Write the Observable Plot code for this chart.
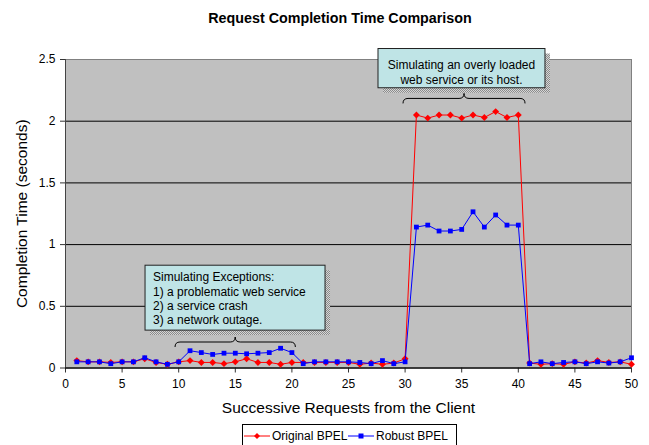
<!DOCTYPE html>
<html>
<head>
<meta charset="utf-8">
<script src="https://cdn.jsdelivr.net/npm/d3@7"></script>
<script src="https://cdn.jsdelivr.net/npm/@observablehq/plot@0.6"></script>
<style>
  html, body { margin: 0; padding: 0; background: #fff; overflow: hidden; }
  body { width: 649px; height: 445px; position: relative; font-family: "Liberation Sans", Arial, sans-serif; }
  #title { position: absolute; left: 31px; top: 10px; width: 618px; text-align: center; font-weight: bold; font-size: 14.3px; line-height: 16px; }
  #chart { position: absolute; left: 0; top: 30px; }
  #legend { position: absolute; left: 242px; top: 424px; width: 215px; height: 26px; border: 1px solid #000; box-sizing: border-box; background: #fff; font-size: 12px; }
  #legend .item { position: absolute; top: 4px; display: flex; align-items: center; height: 14px; }
  #legend svg { display: block; }
  #legend span { margin-left: 2px; line-height: 14px; }
</style>
</head>
<body>
<div id="title">Request Completion Time Comparison</div>
<div id="chart"></div>
<div id="legend"></div>
<script>
// ---- data ----
const requests = [1,2,3,4,5,6,7,8,9,10,11,12,13,14,15,16,17,18,19,20,21,22,23,24,25,26,27,28,29,30,31,32,33,34,35,36,37,38,39,40,41,42,43,44,45,46,47,48,49,50];
const originalBPEL = [0.06,0.05,0.05,0.045,0.05,0.05,0.075,0.045,0.03,0.05,
                      0.06,0.045,0.045,0.035,0.05,0.075,0.045,0.045,0.03,0.045,
                      0.045,0.045,0.045,0.045,0.045,0.03,0.04,0.03,0.04,0.075,
                      2.05,2.025,2.05,2.05,2.025,2.05,2.03,2.078,2.03,2.05,
                      0.04,0.03,0.035,0.03,0.05,0.04,0.06,0.045,0.05,0.03];
const robustBPEL = [0.05,0.05,0.05,0.035,0.05,0.05,0.083,0.05,0.03,0.05,
                    0.14,0.125,0.11,0.12,0.12,0.115,0.12,0.125,0.16,0.125,
                    0.035,0.05,0.05,0.05,0.05,0.045,0.035,0.06,0.035,0.05,
                    1.142,1.158,1.11,1.11,1.123,1.266,1.142,1.24,1.158,1.158,
                    0.035,0.05,0.035,0.045,0.05,0.035,0.05,0.04,0.05,0.083];
const seriesNames = ["Original BPEL", "Robust BPEL"];
const seriesColors = ["#ff0000", "#0000ff"];
const xTicks = [0,5,10,15,20,25,30,35,40,45,50];
const yTicks = [0,0.5,1,1.5,2,2.5];
const titleText = "Request Completion Time Comparison";
const xLabel = "Successive Requests from the Client";
const yLabel = "Completion Time (seconds)";
const noteExceptions = ["Simulating Exceptions:", "1) a problematic web service", "2) a service crash", "3) a network outage."];
const noteOverload = ["Simulating an overly loaded", "web service or its host."];

// annotation layout (data-space anchors)
const annotations = [
  {lines: noteExceptions, box: [7.07, 22.97, 0.829, 0.303], align: "start", brace: [9.72, 20.35, 0.166]},
  {lines: noteOverload,   box: [27.65, 42.4, 2.585, 2.267], align: "middle", brace: [29.86, 40.64, 2.14]}
];

const rows = requests.map((r, i) => ({request: r, original: originalBPEL[i], robust: robustBPEL[i]}));

function annotationMark(index, scales) {
  const {x, y} = scales;
  const g = d3.create("svg:g");
  const defs = g.append("defs");
  const pat = defs.append("pattern").attr("id", "shade").attr("width", 2).attr("height", 2).attr("patternUnits", "userSpaceOnUse");
  pat.append("rect").attr("width", 2).attr("height", 2).attr("fill", "#d6d6d6");
  pat.append("rect").attr("width", 1).attr("height", 1).attr("fill", "#8a8a8a");
  pat.append("rect").attr("x", 1).attr("y", 1).attr("width", 1).attr("height", 1).attr("fill", "#8a8a8a");
  for (const a of annotations) {
    const bx1 = x(a.box[0]), bx2 = x(a.box[1]), by1 = y(a.box[2]), by2 = y(a.box[3]);
    g.append("rect").attr("x", bx1 + 5).attr("y", by1 + 5).attr("width", bx2 - bx1).attr("height", by2 - by1).attr("fill", "url(#shade)");
    g.append("rect").attr("x", bx1).attr("y", by1).attr("width", bx2 - bx1).attr("height", by2 - by1)
      .attr("fill", "#bfe4e6").attr("stroke", "#222").attr("stroke-width", 1);
    const t = g.append("text").attr("font-size", 12).attr("fill", "#000").attr("text-anchor", a.align);
    const tx = a.align === "start" ? bx1 + 8 : (bx1 + bx2) / 2;
    const y0 = a.align === "start" ? by1 + 12 : by1 + 16;
    const lh = a.align === "start" ? 14.3 : 15;
    a.lines.forEach((line, i) => {
      t.append("tspan").attr("x", tx).attr("y", y0 + i * lh).attr("dy", "0.35em").text(line);
    });
    const x1 = x(a.brace[0]), x2 = x(a.brace[1]), base = y(a.brace[2]);
    const cx = (x1 + x2) / 2, r = 5;
    const d = `M${x1},${base} Q${x1},${base - r} ${x1 + r},${base - r} L${cx - r},${base - r} Q${cx},${base - r} ${cx},${base - 2 * r} Q${cx},${base - r} ${cx + r},${base - r} L${x2 - r},${base - r} Q${x2},${base - r} ${x2},${base}`;
    g.append("path").attr("d", d).attr("fill", "none").attr("stroke", "#000").attr("stroke-width", 1);
  }
  return g.node();
}

const chart = Plot.plot({
  width: 649,
  height: 394,
  marginTop: 29,
  marginBottom: 56.5,
  marginLeft: 65,
  marginRight: 18,
  style: {fontFamily: "'Liberation Sans', Arial, sans-serif", fontSize: "12px", background: "transparent", overflow: "visible", color: "#000"},
  x: {domain: [0, 50], ticks: xTicks, label: null},
  y: {domain: [0, 2.5], ticks: yTicks, label: null, tickFormat: d => String(d)},
  marks: [
    Plot.frame({fill: "#c0c0c0", stroke: null}),
    Plot.gridY(yTicks, {stroke: "#000", strokeOpacity: 1, strokeWidth: 1}),
    Plot.frame({stroke: "#808080"}),
    Plot.axisX({ticks: xTicks, tickSize: 5, tickPadding: 6, stroke: "#333", label: null}),
    Plot.axisY({ticks: yTicks, tickSize: 5, tickPadding: 5, stroke: "#333", tickFormat: d => String(d), label: null}),
    Plot.ruleX([0], {stroke: "#444"}),
    Plot.ruleY([0], {stroke: "#000"}),
    Plot.line(rows, {x: "request", y: "original", stroke: seriesColors[0], strokeWidth: 1}),
    Plot.dot(rows, {x: "request", y: "original", symbol: "diamond2", r: 3.1, fill: seriesColors[0], stroke: "none"}),
    Plot.line(rows, {x: "request", y: "robust", stroke: seriesColors[1], strokeWidth: 1}),
    Plot.dot(rows, {x: "request", y: "robust", symbol: "square", r: 2.7, fill: seriesColors[1], stroke: "none"}),
    annotationMark,
    Plot.text([xLabel], {text: d => d, frameAnchor: "bottom", dy: 40.5, lineAnchor: "middle", textAnchor: "middle", fontSize: 15.5, fill: "#000"}),
    Plot.text([yLabel], {text: d => d, frameAnchor: "left", dx: -43, rotate: -90, textAnchor: "middle", lineAnchor: "middle", fontSize: 15.5, fill: "#000"})
  ]
});
document.getElementById("chart").appendChild(chart);
document.getElementById("title").textContent = titleText;

// legend
const legend = d3.select("#legend");
const itemLefts = [1, 105];
seriesNames.forEach((name, i) => {
  const item = legend.append("div").attr("class", "item").style("left", itemLefts[i] + "px");
  const sw = item.append("svg").attr("width", 26).attr("height", 14);
  sw.append("line").attr("x1", 0).attr("x2", 26).attr("y1", 7).attr("y2", 7).attr("stroke", seriesColors[i]).attr("stroke-width", 1);
  if (i === 0) {
    sw.append("path").attr("d", "M13,4 L16,7 L13,10 L10,7 Z").attr("fill", seriesColors[i]);
  } else {
    sw.append("rect").attr("x", 10.5).attr("y", 4.5).attr("width", 5).attr("height", 5).attr("fill", seriesColors[i]);
  }
  item.append("span").text(name);
});
</script>
</body>
</html>
